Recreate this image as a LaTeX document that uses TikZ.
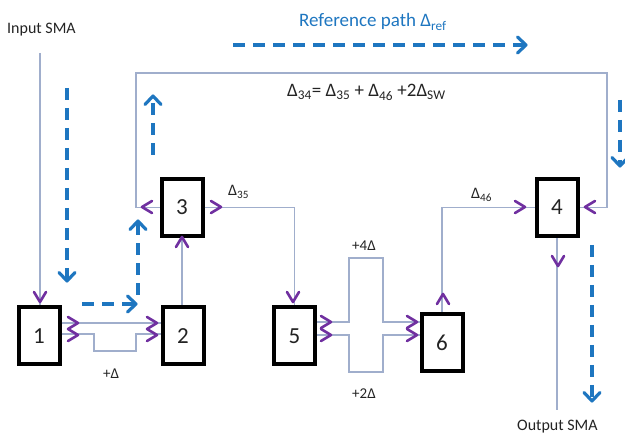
\documentclass[tikz,border=0pt]{standalone}
\usepackage{fontspec}
\setmainfont{Carlito}
\usetikzlibrary{arrows.meta}
\definecolor{linegrey}{RGB}{160,174,204}
\definecolor{chevpurple}{RGB}{112,48,160}
\definecolor{refblue}{RGB}{30,118,192}
\definecolor{txt}{RGB}{35,35,35}
\tikzset{
  boxnode/.style={draw=black,line width=4pt,minimum width=41pt,minimum height=57pt,inner sep=0pt,font=\fontsize{23}{25}\selectfont,text=txt},
  wire/.style={draw=linegrey,line width=1.3pt},
  chevline/.style={draw=chevpurple,line width=2.6pt,line cap=round,line join=round},
  chev/.pic={\draw[chevline] (-10,-6) -- (0,0) -- (-10,6);},
  bchevline/.style={draw=refblue,line width=3.2pt,line cap=round,line join=round},
  bchev/.pic={\draw[bchevline] (-8.5,-8) -- (0,0) -- (-8.5,8);},
  refdash/.style={draw=refblue,line width=3.2pt,dash pattern=on 12pt off 8pt},
  lbl/.style={text=txt,inner sep=0pt,font=\fontsize{15}{17}\selectfont},
}
\begin{document}
\begin{tikzpicture}[x=1pt,y=-1pt]
\useasboundingbox (0,0) rectangle (625,433);
% boxes
\node[boxnode] (b1) at (39,336) {1};
\node[boxnode] (b2) at (183,336) {2};
\node[boxnode] (b3) at (182,207.5) {3};
\node[boxnode] (b5) at (294.5,336) {5};
\node[boxnode] (b6) at (442,342.5) {6};
\node[boxnode] (b4) at (557,207.5) {4};
% helper coordinates
\coordinate (in1) at (40,53);
\coordinate (lp1) at (136,73);
\coordinate (lp2) at (607,73);
\coordinate (out1) at (558,410);
% wires
\draw[wire] (in1) -- (in1 |- b1.north);
\draw[wire] (b3.west) -| (lp1) -- (lp2) |- (b4.east);
\draw[wire] (b3.east) -| (b5.north);
\draw[wire] (b3.south) -- (b3.south |- b2.north);
\draw[wire] (b1.east |- 0,323) -- (b2.west |- 0,323);
\draw[wire] (b1.east |- 0,334) -- (94,334) -- (94,351) -- (136,351) -- (136,334) -- (b2.west |- 0,334);
\draw[wire] (b5.east |- 0,322) -- (349,322) -- (349,258) -- (383,258) -- (383,322) -- (b6.west |- 0,322);
\draw[wire] (b5.east |- 0,335) -- (349,335) -- (349,372) -- (383,372) -- (383,335) -- (b6.west |- 0,335);
\draw[wire] (b6.north) |- (b4.west);
\draw[wire] (b4.south) -- (b4.south |- out1);
% chevrons
\pic[rotate=-90] at (40,302) {chev};
\pic[rotate=180] at (142,207) {chev};
\pic at (221,207) {chev};
\pic[rotate=90] at (182,237) {chev};
\pic[rotate=-90] at (293,302) {chev};
\pic at (78,323) {chev};
\pic at (78,335) {chev};
\pic at (157,323) {chev};
\pic at (157,335) {chev};
\pic at (331,322) {chev};
\pic at (331,335) {chev};
\pic at (417,322) {chev};
\pic at (417,335) {chev};
\pic[rotate=90] at (443,294) {chev};
\pic at (525,207) {chev};
\pic[rotate=180] at (585,207) {chev};
\pic[rotate=-90] at (558,266) {chev};
% reference path dashed arrows
\coordinate (r1s) at (67,88);   \coordinate (r1e) at (67,281);
\coordinate (r2s) at (82,304);  \coordinate (r2e) at (136,304);
\coordinate (r3s) at (138,295); \coordinate (r3e) at (138,221);
\coordinate (r4s) at (153,155); \coordinate (r4e) at (153,96);
\coordinate (r5s) at (233,45);  \coordinate (r5e) at (526,45);
\coordinate (r6s) at (620,100); \coordinate (r6e) at (620,166);
\coordinate (r7s) at (592,245); \coordinate (r7e) at (592,401);
\draw[refdash] (r1s) -- (r1e);
\draw[refdash] (r2s) -- (r2e);
\draw[refdash] (r3s) -- (r3e);
\draw[refdash] (r4s) -- (r4e);
\draw[refdash] (r5s) -- (r5e);
\draw[refdash] (r6s) -- (r6e);
\draw[refdash] (r7s) -- (r7e);
\pic[rotate=-90] at (r1e) {bchev};
\pic at (r2e) {bchev};
\pic[rotate=90] at (r3e) {bchev};
\pic[rotate=90] at (r4e) {bchev};
\pic at (r5e) {bchev};
\pic[rotate=-90] at (r6e) {bchev};
\pic[rotate=-90] at (r7e) {bchev};
% labels
\node[lbl,anchor=base west,font=\fontsize{16}{18}\selectfont] (tin) at (7,34) {Input SMA};
\node[lbl,anchor=base west,font=\fontsize{16}{18}\selectfont] (tout) at (517,430) {Output SMA};
\node[lbl,anchor=base west,text=refblue,font=\fontsize{19}{21}\selectfont] (tref) at (299,27) {Reference path Δ\textsubscript{ref}};
\node[lbl,anchor=base west,font=\fontsize{19}{21}\selectfont] (tfor) at (287,97) {Δ\textsubscript{34}= Δ\textsubscript{35} + Δ\textsubscript{46} +2Δ\textsubscript{SW}};
\node[lbl,anchor=base west,font=\fontsize{16}{18}\selectfont] (t35) at (228,196) {Δ\textsubscript{35}};
\node[lbl,anchor=base west,font=\fontsize{16}{18}\selectfont] (t46) at (471,199) {Δ\textsubscript{46}};
\node[lbl,anchor=base west] (t4d) at (352,251) {+4Δ};
\node[lbl,anchor=base west] (t2d) at (352,399) {+2Δ};
\node[lbl,anchor=base west] (t1d) at (103,379) {+Δ};
\end{tikzpicture}
\end{document}
